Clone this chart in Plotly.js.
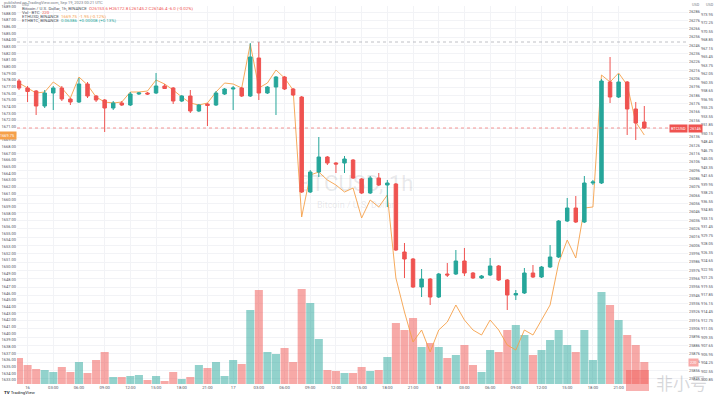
<!DOCTYPE html>
<html><head><meta charset="utf-8">
<script src="https://cdn.plot.ly/plotly-3.0.1.min.js"></script>
<style>html,body{margin:0;padding:0;background:#fff;}#chart{width:718px;height:397px;}</style>
</head><body><div id="chart"></div>
<script>
// ---- data (BTCUSD 1h candles, index 0..73) ----
const candleIdx = [0,1,2,3,4,5,6,7,8,9,10,11,12,13,14,15,16,17,18,19,20,21,22,23,24,25,26,27,28,29,30,31,32,33,34,35,36,37,38,39,40,41,42,43,44,45,46,47,48,49,50,51,52,53,54,55,56,57,58,59,60,61,62,63,64,65,66,67,68,69,70,71,72,73];
const openP  = [26202.8,26194.4,26190.8,26172.8,26188.4,26194.4,26181.2,26177.6,26199.2,26184.8,26180.0,26170.4,26176.4,26174.0,26187.2,26188.4,26188.4,26196.8,26194.4,26178.8,26184.8,26166.8,26175.2,26174.0,26187.2,26193.2,26194.4,26184.8,26230.4,26188.4,26195.6,26207.6,26193.2,26183.6,26069.6,26093.6,26111.6,26104.4,26104.4,26108.0,26085.2,26068.4,26086.4,26078.0,26079.2,25997.6,25989.2,25955.6,25965.2,25943.6,25971.2,25971.2,25986.8,25972.4,25966.4,25970.0,25980.8,25964.0,25946.0,25948.4,25972.4,25967.6,25979.6,25991.6,26034.8,26050.4,26033.6,26080.4,26080.4,26201.6,26183.6,26201.6,26169.2,26153.6];
const highP  = [26205.2,26196.8,26192.0,26192.0,26196.8,26196.8,26182.4,26206.4,26201.6,26186.0,26181.2,26178.8,26178.8,26189.6,26189.6,26189.6,26212.4,26199.2,26195.6,26186.0,26192.0,26175.2,26176.4,26190.8,26194.4,26196.8,26195.6,26248.4,26249.6,26196.8,26208.8,26208.8,26194.4,26184.8,26096.0,26135.6,26112.8,26105.6,26112.8,26109.2,26086.4,26088.8,26092.4,26084.0,26080.4,26008.4,25990.4,25977.2,25966.4,25972.4,25984.4,26000.0,26002.4,25973.6,25970.0,25990.4,25982.0,25965.2,25952.0,25978.4,25982.0,25980.8,26006.0,26036.0,26062.4,26064.8,26088.8,26084.0,26205.2,26231.6,26211.2,26202.8,26177.6,26172.8];
const lowP   = [26192.0,26177.6,26162.0,26170.4,26168.0,26178.8,26174.0,26176.4,26182.4,26177.6,26141.6,26168.0,26172.8,26172.8,26186.0,26186.0,26187.2,26193.2,26175.2,26177.6,26164.4,26165.6,26148.8,26172.8,26186.0,26168.0,26183.6,26183.6,26180.0,26187.2,26162.0,26192.0,26184.8,26068.4,26068.4,26087.6,26102.0,26092.4,26092.4,26085.2,26067.2,26067.2,26076.8,26051.6,25998.8,25966.4,25954.4,25943.6,25934.0,25942.4,25967.6,25970.0,25968.8,25965.2,25965.2,25968.8,25962.8,25928.0,25940.0,25947.2,25966.4,25966.4,25978.4,25990.4,26033.6,26032.4,26032.4,26078.0,26079.2,26176.4,26182.4,26138.0,26132.0,26145.2];
const closeP = [26194.4,26190.2,26172.8,26188.4,26194.4,26181.2,26177.6,26199.2,26184.8,26180.0,26170.4,26176.4,26174.0,26187.2,26188.4,26187.2,26196.8,26193.8,26178.8,26184.8,26166.8,26174.0,26173.4,26188.4,26193.2,26194.4,26184.8,26231.6,26188.4,26195.6,26207.6,26193.2,26186.0,26069.6,26093.6,26111.6,26104.4,26103.2,26109.2,26086.4,26068.4,26086.4,26078.0,26080.4,26000.0,25989.2,25955.6,25965.2,25943.6,25971.2,25970.0,25986.8,25972.4,25966.4,25968.8,25980.8,25964.0,25946.0,25947.8,25972.4,25967.6,25979.6,25991.6,26034.8,26050.4,26033.6,26080.4,26081.6,26202.8,26183.6,26201.6,26169.2,26152.4,26146.4];
const volumeBTC = [260,190,150,140,120,170,120,220,110,240,320,70,70,80,90,40,80,30,120,50,70,190,160,220,80,240,200,740,940,320,300,360,220,950,810,450,140,130,110,110,170,130,140,270,610,540,660,370,410,370,260,290,390,190,120,340,320,540,590,490,290,340,440,540,390,320,540,240,920,790,640,490,390,220];
// comparison symbol (ETHUSD) close, own scale on the left
const ethClose = [1677.55,1676.80,1676.05,1676.20,1677.70,1676.80,1675.30,1678.45,1677.25,1675.45,1674.70,1674.55,1674.70,1676.20,1676.20,1676.35,1678.00,1677.40,1676.50,1675.45,1674.55,1674.25,1674.55,1676.20,1677.55,1677.40,1676.80,1683.40,1676.80,1677.55,1679.50,1678.30,1676.50,1657.45,1663.75,1664.20,1663.00,1662.25,1661.20,1661.80,1657.30,1660.00,1658.95,1660.75,1648.30,1643.20,1638.70,1640.50,1637.20,1640.50,1641.70,1644.25,1642.00,1640.50,1639.75,1642.00,1640.50,1638.25,1637.50,1640.50,1639.75,1642.00,1644.25,1650.55,1654.00,1651.30,1658.80,1658.95,1678.75,1677.70,1679.05,1677.25,1671.70,1669.75];
// time axis labels
const timeTickIdx = [1,4,7,10,13,16,19,22,25,28,31,34,37,40,43,46,49,52,55,58,61,64,67,70];
const timeTickText = ["16","03:00","06:00","09:00","12:00","15:00","18:00","21:00","17","03:00","06:00","09:00","12:00","15:00","18:00","21:00","18","03:00","06:00","09:00","12:00","15:00","18:00","21:00"];

const UP='#26a69a', DN='#ef5350', ORANGE='#f5a04a';
const FONT='Roboto, "Liberation Sans", sans-serif';
const volColors = closeP.map((c,i)=> c>=openP[i] ? 'rgba(38,166,154,0.5)' : 'rgba(239,83,80,0.5)');

const traces = [
  {type:'bar', x:candleIdx, y:volumeBTC, xaxis:'x', yaxis:'y', marker:{color:volColors, line:{width:0}}, hoverinfo:'skip'},
  {type:'scatter', mode:'text', x:[39.3], y:[1990], xaxis:'x', yaxis:'y', text:['BTCUSD, 1h'], textfont:{size:22,color:'rgba(120,123,134,0.17)',family:FONT}, hoverinfo:'skip', cliponaxis:false},
  {type:'scatter', mode:'text', x:[39.3], y:[1780], xaxis:'x', yaxis:'y', text:['Bitcoin / U.S. Dollar'], textfont:{size:9,color:'rgba(120,123,134,0.17)',family:FONT}, hoverinfo:'skip', cliponaxis:false},
  {type:'candlestick', x:candleIdx, open:openP, high:highP, low:lowP, close:closeP, xaxis:'x', yaxis:'y3',
   increasing:{line:{color:UP,width:1}, fillcolor:UP}, decreasing:{line:{color:DN,width:1}, fillcolor:DN}, whiskerwidth:0, hoverinfo:'skip'},
  {type:'scatter', mode:'lines', x:candleIdx, y:ethClose, xaxis:'x', yaxis:'y2', line:{color:ORANGE,width:0.9}, hoverinfo:'skip'},
  // placeholder so the second right-hand price scale is drawn
  {type:'scatter', mode:'markers', x:[null], y:[null], xaxis:'x', yaxis:'y4', hoverinfo:'skip', marker:{opacity:0}}
];

const n = closeP.length;
const lastC = closeP[n-1], lastO = openP[n-1];
const maxHigh = Math.max(...highP);
const chg = lastC - closeP[n-2];
const tickFont = {family:FONT, size:3.9, color:'#50535e'};
const W=718,H=397,L=17,R=18,T=6,B=13;
const px = v => (v-L)/(W-L-R);
const py = v => (H-B-v)/(H-T-B);

const ann = [];
function txt(x,y,text,opt){ann.push(Object.assign({xref:'paper',yref:'paper',x:px(x),y:py(y),text:text,showarrow:false,xanchor:'left',yanchor:'middle',font:{family:FONT,size:4.4,color:'#50535e'}},opt||{}));}
txt(2,2.3,'published on TradingView.com, Sep 19, 2023 00:21 UTC',{font:{family:FONT,size:4,color:'#787b86'}});
txt(20,4.8,'USD',{font:{family:FONT,size:3.6,color:'#787b86'}});
txt(690,4.5,'USD',{font:{family:FONT,size:3.8,color:'#787b86'}});
txt(704,4.5,'USD',{font:{family:FONT,size:3.8,color:'#787b86'}});
txt(20,8.5,'Bitcoin / U.S. Dollar, 1h, BINANCE  <span style="color:'+DN+'">O'+lastO.toFixed(1)+' H'+highP[n-1].toFixed(1)+' L'+lowP[n-1].toFixed(1)+' C'+lastC.toFixed(1)+' '+chg.toFixed(1)+' ('+(chg/closeP[n-2]*100).toFixed(2)+'%)</span>');
txt(20,12.8,'Vol · BTC  <span style="color:'+DN+'">'+volumeBTC[n-1]+'</span>');
txt(20,16.8,'ETHUSD, BINANCE  <span style="color:'+ORANGE+'">'+ethClose[n-1].toFixed(2)+'  '+(ethClose[n-1]-ethClose[n-2]).toFixed(2)+' ('+((ethClose[n-1]-ethClose[n-2])/ethClose[n-2]*100).toFixed(2)+'%)</span>');
txt(20,20.8,'ETHBTC, BINANCE  <span style="color:'+UP+'">0.06386  +0.00008 (+0.13%)</span>');
txt(2,393,'<b>TV</b> TradingView',{font:{family:FONT,size:4.4,color:'#131722'}});
// price labels
ann.push({xref:'paper',yref:'y3',x:px(688),y:lastC,text:lastC.toFixed(0),showarrow:false,xanchor:'left',yanchor:'middle',bgcolor:DN,borderpad:1,font:{family:FONT,size:3.9,color:'#fff'}});
ann.push({xref:'paper',yref:'y3',x:px(688),y:lastC,text:'BTCUSD',showarrow:false,xanchor:'right',yanchor:'middle',bgcolor:DN,borderpad:1,font:{family:FONT,size:3.9,color:'#fff'}});
ann.push({xref:'paper',yref:'y2',x:0,y:ethClose[n-1],text:ethClose[n-1].toFixed(2),showarrow:false,xanchor:'right',yanchor:'middle',bgcolor:ORANGE,borderpad:1,font:{family:FONT,size:3.9,color:'#fff'}});
ann.push({xref:'paper',yref:'y',x:px(688),y:volumeBTC[n-1],text:String(volumeBTC[n-1]),showarrow:false,xanchor:'left',yanchor:'middle',bgcolor:'#f7a9a7',borderpad:1,font:{family:FONT,size:3.9,color:'#fff'}});
// watermark bottom-right
txt(654,382,'非小号',{font:{family:'"Noto Sans CJK SC", sans-serif',size:17,color:'rgba(140,140,150,0.35)'}});

const layout = {
  width:W, height:H, margin:{l:L,r:R,t:T,b:B,pad:0},
  paper_bgcolor:'#fff', plot_bgcolor:'#fff', showlegend:false, hovermode:false, dragmode:false,
  boxgap:0.42, bargap:0.06,
  xaxis:{domain:[0,px(688)], range:[-0.233,78.1], tickmode:'array', tickvals:timeTickIdx, ticktext:timeTickText,
         tickfont:{family:FONT,size:4.2,color:'#50535e'}, showgrid:true, gridcolor:'#f2f3f6', gridwidth:1, zeroline:false, showline:false, ticks:'',
         rangeslider:{visible:false}, fixedrange:true, automargin:false},
  yaxis:{range:[0,3780], visible:false, fixedrange:true},
  yaxis2:{overlaying:'y', side:'left', anchor:'x', range:[1632.4,1689.1], dtick:1, tickformat:'.2f', tickfont:{family:FONT,size:4,color:'#50535e'},
          showgrid:false, zeroline:false, ticks:'', automargin:false, fixedrange:true},
  yaxis3:{overlaying:'y', side:'right', anchor:'x', range:[25839.2,26292.8], dtick:10, tick0:25845.6, tickformat:'.0f', tickfont:tickFont,
          showgrid:true, gridcolor:'#f2f3f6', zeroline:false, ticks:'', automargin:false, fixedrange:true},
  yaxis4:{overlaying:'y', side:'right', anchor:'free', position:1, range:[900,975.6], dtick:1.7, tick0:900.85, tickformat:'.2f', tickfont:tickFont,
          showgrid:false, zeroline:false, ticks:'', automargin:false, fixedrange:true},
  shapes:[
    {type:'line', xref:'x domain', x0:0, x1:1, yref:'y3', y0:lastC, y1:lastC, line:{color:DN,width:1,dash:'dot'}, opacity:0.6},
    {type:'line', xref:'x domain', x0:0, x1:1, yref:'y3', y0:maxHigh, y1:maxHigh, line:{color:'#9598a1',width:1,dash:'dot'}, opacity:0.6},
    {type:'rect', xref:'paper', yref:'paper', x0:px(626), x1:px(649), y0:py(391), y1:py(370), fillcolor:'rgba(239,83,80,0.45)', line:{width:0}}
  ],
  annotations:ann
};
Plotly.newPlot('chart', traces, layout, {staticPlot:true, displayModeBar:false});
</script></body></html>
